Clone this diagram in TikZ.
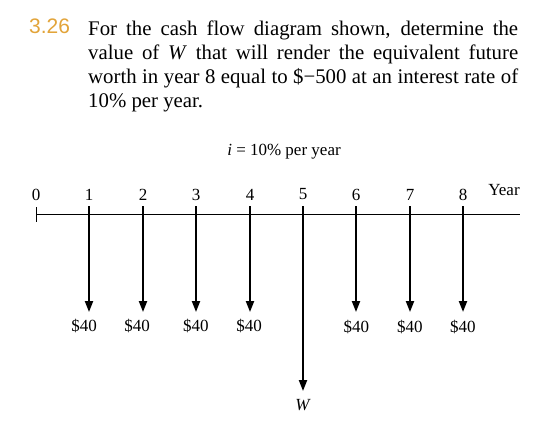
\documentclass[tikz,border=0pt]{standalone}
\usepackage{fontspec}
\setmainfont{Liberation Serif}
\newfontfamily\probfont{Liberation Sans}
\usepackage{xcolor}
\usetikzlibrary{arrows.meta, positioning}
\definecolor{probgold}{HTML}{E2A43A}

\begin{document}
\begin{tikzpicture}[
    x=1pt, y=-1pt,
    lbl/.style={
        font=\fontsize{17}{19}\selectfont,
        inner sep=0pt
    },
    flow/.style={
        -{Triangle[length=11pt, width=8pt]},
        line width=2pt
    },
    axis/.style={
        line width=1pt
    }
]
\useasboundingbox (0,0) rectangle (548,436);

% Problem statement
\node[anchor=base west, inner sep=0pt, color=probgold,
      font=\probfont\fontsize{21}{24}\selectfont] (num) at (29,34) {3.26};
\node[anchor=north west, inner sep=0pt, text width=430pt, align=justify,
      font=\fontsize{20.8}{23.8}\selectfont] (stmt) at (88,21)
  {For the cash flow diagram shown, determine the\linebreak
   value of \textit{W} that will render the equivalent future\linebreak
   worth in year 8 equal to \$−500 at an interest rate of\linebreak
   10\% per year.};

% Interest rate
\node[lbl] (rate) at (284,152) {\textit{i} = 10\% per year};

% Time axis
\coordinate (a0) at (36,214.5);
\coordinate (a9) at (520,214.5);
\coordinate (k0) at (36.5,207);
\coordinate (k1) at (36.5,222);
\draw[axis] (a0) -- (a9);
\draw[axis] (k0) -- (k1);

% Year numbers
\node[lbl] (n0) at (36,194.5) {0};
\node[lbl] (n1) at (89,194.5) {1};
\node[lbl] (n2) at (143,194.5) {2};
\node[lbl] (n3) at (196,194.5) {3};
\node[lbl] (n4) at (250,194.5) {4};
\node[lbl] (n5) at (303,194.5) {5};
\node[lbl] (n6) at (356,194.5) {6};
\node[lbl] (n7) at (410,194.5) {7};
\node[lbl] (n8) at (463,194.5) {8};
\node[lbl] (yr) at (504,190.5) {Year};

% Cash flow arrows
\coordinate (s1) at (89,206);  \coordinate (e1) at (89,312);
\coordinate (s2) at (143,206); \coordinate (e2) at (143,312);
\coordinate (s3) at (196,206); \coordinate (e3) at (196,312);
\coordinate (s4) at (250,206); \coordinate (e4) at (250,312);
\coordinate (s5) at (303,206); \coordinate (e5) at (303,391);
\coordinate (s6) at (356,206); \coordinate (e6) at (356,312);
\coordinate (s7) at (410,206); \coordinate (e7) at (410,312);
\coordinate (s8) at (463,206); \coordinate (e8) at (463,312);
\draw[flow] (s1) -- (e1);
\draw[flow] (s2) -- (e2);
\draw[flow] (s3) -- (e3);
\draw[flow] (s4) -- (e4);
\draw[flow] (s5) -- (e5);
\draw[flow] (s6) -- (e6);
\draw[flow] (s7) -- (e7);
\draw[flow] (s8) -- (e8);

% Amounts
\node[lbl] (c1) at (84,326) {\$40};
\node[lbl] (c2) at (137.2,326) {\$40};
\node[lbl] (c3) at (195.8,326) {\$40};
\node[lbl] (c4) at (249.2,326) {\$40};
\node[lbl] (c6) at (356.4,326.5) {\$40};
\node[lbl] (c7) at (409.8,326.5) {\$40};
\node[lbl] (c8) at (462.8,326.5) {\$40};
\node[lbl] (w) at (303,405) {\textit{W}};

\end{tikzpicture}
\end{document}
